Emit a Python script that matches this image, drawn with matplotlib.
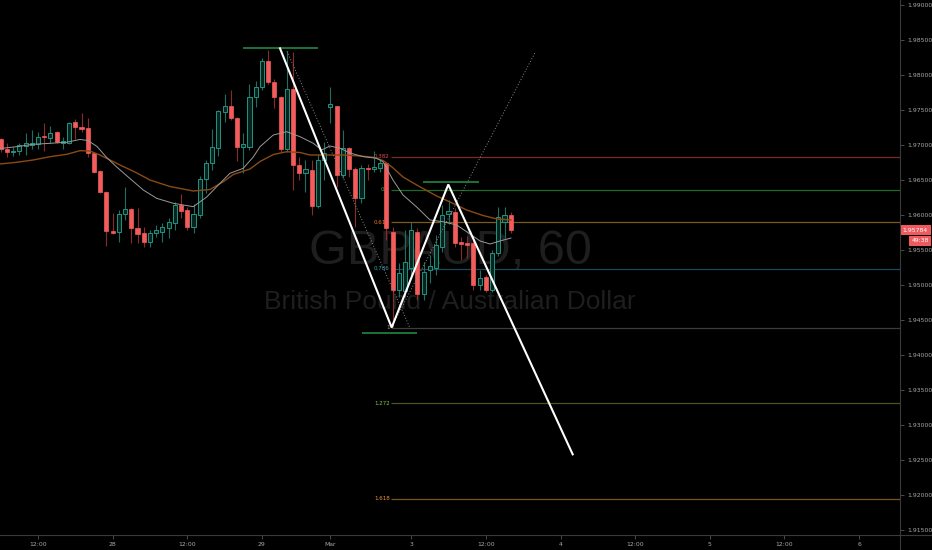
import matplotlib
matplotlib.use('Agg')
import matplotlib.pyplot as plt
import matplotlib.transforms as mtransforms
from matplotlib.lines import Line2D
import numpy as np

# GBPAUD 60 min candles
opens = [1.97086, 1.96943, 1.96893, 1.96914, 1.96986, 1.97004, 1.97014, 1.97129, 1.97100, 1.97186,
         1.97033, 1.97033, 1.97329, 1.97261, 1.97239, 1.96890, 1.96629, 1.96333, 1.95771, 1.95761,
         1.96010, 1.96081, 1.95810, 1.95747, 1.95619, 1.95739, 1.95761, 1.95810, 1.95890, 1.96143,
         1.96071, 1.95833, 1.96000, 1.96510, 1.96739, 1.96953, 1.97476, 1.97557, 1.97390, 1.96976,
         1.96976, 1.97681, 1.97833, 1.98204, 1.97904, 1.97690, 1.96939, 1.97796, 1.96714, 1.96604,
         1.96643, 1.96129, 1.96786, 1.97539, 1.97557, 1.96571, 1.96953, 1.96653, 1.96247, 1.96676,
         1.96653, 1.96667, 1.96739, 1.95761, 1.94929, 1.94914, 1.95243, 1.95757, 1.94871, 1.95214,
         1.95243, 1.95543, 1.96014, 1.96043, 1.95614, 1.95600, 1.95600, 1.95000, 1.95114, 1.94929,
         1.95457, 1.95900, 1.96000]
highs = [1.97100, 1.97029, 1.96971, 1.97033, 1.97167, 1.97214, 1.97186, 1.97319, 1.97271, 1.97204,
         1.97119, 1.97329, 1.97367, 1.97461, 1.97381, 1.96904, 1.96636, 1.96343, 1.96024, 1.96071,
         1.96396, 1.96100, 1.96100, 1.95833, 1.95786, 1.95857, 1.95890, 1.95961, 1.96190, 1.96300,
         1.96119, 1.96157, 1.96557, 1.96786, 1.97224, 1.97500, 1.97724, 1.97786, 1.97404, 1.97167,
         1.97871, 1.97914, 1.98239, 1.98357, 1.97939, 1.97700, 1.98339, 1.98329, 1.96833, 1.96786,
         1.96786, 1.96871, 1.97047, 1.97824, 1.97564, 1.97214, 1.96976, 1.96690, 1.96714, 1.96729,
         1.96919, 1.96796, 1.96761, 1.95833, 1.95314, 1.95786, 1.95900, 1.95814, 1.95329, 1.95429,
         1.95714, 1.96143, 1.96214, 1.96100, 1.95686, 1.95700, 1.95643, 1.95214, 1.95143, 1.95500,
         1.96114, 1.96114, 1.96043]
lows = [1.96900, 1.96829, 1.96843, 1.96857, 1.96857, 1.96939, 1.96939, 1.96919, 1.97024, 1.97024,
        1.96939, 1.97021, 1.97081, 1.97186, 1.96824, 1.96596, 1.96314, 1.95557, 1.95729, 1.95619,
        1.95929, 1.95600, 1.95600, 1.95547, 1.95547, 1.95681, 1.95619, 1.95667, 1.95786, 1.95961,
        1.95786, 1.95747, 1.95953, 1.96319, 1.96643, 1.96843, 1.97333, 1.97357, 1.96776, 1.96596,
        1.96929, 1.97547, 1.97786, 1.97871, 1.97524, 1.96904, 1.96904, 1.96357, 1.96500, 1.96333,
        1.96000, 1.96096, 1.96500, 1.97319, 1.96404, 1.96524, 1.96547, 1.95833, 1.96167, 1.96500,
        1.96619, 1.96619, 1.95643, 1.94393, 1.94829, 1.94829, 1.95100, 1.94786, 1.94786, 1.95029,
        1.95143, 1.95471, 1.95871, 1.95543, 1.95357, 1.95386, 1.94929, 1.94929, 1.94900, 1.94900,
        1.95414, 1.95671, 1.95743]
closes = [1.96943, 1.96893, 1.96919, 1.97000, 1.97024, 1.97033, 1.97119, 1.97110, 1.97176, 1.97043,
          1.97061, 1.97319, 1.97253, 1.97224, 1.96890, 1.96619, 1.96329, 1.95771, 1.95747, 1.96014,
          1.96081, 1.95810, 1.95729, 1.95619, 1.95747, 1.95786, 1.95824, 1.95896, 1.96143, 1.96061,
          1.95833, 1.96014, 1.96510, 1.96747, 1.96967, 1.97486, 1.97561, 1.97381, 1.96976, 1.97014,
          1.97681, 1.97824, 1.98204, 1.97904, 1.97690, 1.96939, 1.97796, 1.96714, 1.96604, 1.96653,
          1.96129, 1.96786, 1.96881, 1.97586, 1.96571, 1.96953, 1.96653, 1.96247, 1.96667, 1.96653,
          1.96690, 1.96739, 1.95814, 1.94929, 1.95171, 1.95329, 1.95786, 1.94871, 1.95186, 1.95271,
          1.95571, 1.96000, 1.96057, 1.95600, 1.95586, 1.95571, 1.95000, 1.95100, 1.94929, 1.95457,
          1.95971, 1.96000, 1.95784]

# moving averages (grey fast, brown slow)
fast_ma_x = [-0.11, 2.57, 5.24, 7.93, 10.61, 12.75, 14.04, 15.48, 17.04, 18.65, 20.31, 22.93, 25.08,
             27.75, 30.96, 33.12, 35.26, 36.86, 39.0, 40.61, 41.69, 43.83, 45.98, 48.12, 50.26, 51.61,
             52.94, 54.55, 56.16, 58.3, 60.45, 61.46, 63.07, 64.68, 66.88, 69.02, 71.11, 73.31, 75.45,
             77.06, 78.67, 80.27, 82.04]
fast_ma_y = [1.96950, 1.96976, 1.97010, 1.97024, 1.97039, 1.97079, 1.97064, 1.96979, 1.96821, 1.96686,
             1.96557, 1.96357, 1.96238, 1.96167, 1.96119, 1.96257, 1.96453, 1.96596, 1.96667, 1.96829,
             1.96976, 1.97143, 1.97190, 1.97119, 1.97024, 1.96929, 1.96986, 1.96953, 1.96886, 1.96833,
             1.96810, 1.96761, 1.96500, 1.96286, 1.96114, 1.95929, 1.95904, 1.95857, 1.95729, 1.95629,
             1.95586, 1.95629, 1.95671]
slow_ma_x = [-0.11, 2.57, 5.24, 7.93, 10.61, 12.75, 14.36, 15.96, 17.57, 19.18, 21.59, 24.0, 27.22,
             30.96, 33.65, 35.79, 37.4, 40.08, 41.69, 43.83, 45.98, 48.12, 49.73, 52.41, 55.08, 57.77,
             59.9, 61.46, 62.91, 64.68, 66.88, 70.1, 72.23, 74.92, 77.54, 79.8, 82.04]
slow_ma_y = [1.96729, 1.96753, 1.96786, 1.96833, 1.96867, 1.96919, 1.96914, 1.96857, 1.96786, 1.96714,
             1.96614, 1.96500, 1.96407, 1.96343, 1.96364, 1.96476, 1.96579, 1.96657, 1.96764, 1.96864,
             1.96904, 1.96893, 1.96857, 1.96857, 1.96857, 1.96843, 1.96824, 1.96779, 1.96686, 1.96543,
             1.96429, 1.96271, 1.96186, 1.96071, 1.95993, 1.95943, 1.95929]

# drawings on the chart
zigzag_x = [44.9, 62.86, 71.96, 91.96]
zigzag_y = [1.98381, 1.94393, 1.96436, 1.92581]
marks_x0 = [38.96, 58.04, 67.94]
marks_x1 = [51.0, 66.98, 76.95]
marks_y = [1.98386, 1.94310, 1.96476]
dot1_x = [46.03, 65.8]
dot1_y = [1.98339, 1.94386]
dot2_x = [62.75, 85.9]
dot2_y = [1.94386, 1.98319]

fib_start = 62.75
fib_high = 1.98339
fib_low = 1.94386
fib_ratios = [0.382, 0.5, 0.618, 0.786, 1, 1.272, 1.618]
fib_labels = ['0.382', '0.5', '0.618', '0.786', '1', '1.272', '1.618']
fib_line_colors = ['#7a2828', '#1d6b2a', '#7b5a1e', '#1c4a5a', '#3d3d3d', '#4a5718', '#7a5418']
fib_text_colors = ['#e04a4a', '#3fae49', '#e07a30', '#3aa0b0', '#9a9a9a', '#8bc34a', '#f0913a']

time_tick_pos = [6, 18, 30, 42, 53, 66, 78, 90, 102, 114, 126, 138]
time_tick_labels = ['12:00', '28', '12:00', '29', 'Mar', '3', '12:00', '4', '12:00', '5', '12:00', '6']
price_ticks = np.arange(1.915, 1.99001, 0.005)
last_price = closes[-1]
countdown = '49:38'

fig = plt.figure(figsize=(9.32, 5.5), dpi=100, facecolor='black')
ax = fig.add_axes([0, 15 / 550, 900 / 932, 535 / 550])
ax.set_facecolor('black')
ax.set_xlim(-0.11, 144.58)
ax.set_ylim(1.914286, 1.990714)

# watermark
ax.text(0.5, 0.529, 'GBPAUD, 60', transform=ax.transAxes, ha='center', va='center',
        fontsize=35, color='#1e1e1e', family='Liberation Sans', zorder=0)
ax.text(0.5, 0.4355, 'British Pound / Australian Dollar', transform=ax.transAxes, ha='center',
        va='center', fontsize=19, color='#1e1e1e', family='Liberation Sans', zorder=0)

# fib levels
rng = fib_high - fib_low
for r, lab, lc, tc in zip(fib_ratios, fib_labels, fib_line_colors, fib_text_colors):
    lvl = fib_high - r * rng
    ax.hlines(lvl, fib_start, 144.58, colors=lc, linewidth=0.9, zorder=1)
    ax.text(fib_start - 0.2, lvl, lab, ha='right', va='center', fontsize=4, color=tc, zorder=1)

# candles
x = np.arange(len(opens))
o = np.array(opens)
c = np.array(closes)
up = c >= o
wick_col = np.where(up, '#1d6f63', '#8a2a2a')
ax.vlines(x, lows, highs, colors=wick_col, linewidth=0.8, zorder=2)
body_bottom = np.minimum(o, c)
body_h = np.maximum(np.abs(c - o), 0.00004)
ax.bar(x[up], body_h[up], bottom=body_bottom[up], width=0.66, color='#06231e',
       edgecolor='#1f9582', linewidth=0.7, zorder=3)
ax.bar(x[~up], body_h[~up], bottom=body_bottom[~up], width=0.66, color='#f45b5b',
       edgecolor='#f45b5b', linewidth=0.5, zorder=3)

# moving averages
ax.plot(slow_ma_x, slow_ma_y, color='#8c4a12', linewidth=1.0, zorder=4)
ax.plot(fast_ma_x, fast_ma_y, color='#9a9a9a', linewidth=0.7, zorder=4)

# drawings
ax.plot(dot1_x, dot1_y, color='#8a8a8a', linewidth=0.7, linestyle=(0, (1, 2)), zorder=5)
ax.plot(dot2_x, dot2_y, color='#8a8a8a', linewidth=0.7, linestyle=(0, (1, 2)), zorder=5)
ax.hlines(marks_y, marks_x0, marks_x1, colors='#1f7d3f', linewidth=1.3, zorder=5)
ax.plot(zigzag_x, zigzag_y, color='white', linewidth=1.5, zorder=6, solid_joinstyle='miter')

# axes
for s in ax.spines.values():
    s.set_visible(False)
fig.add_artist(Line2D([0, 1], [15 / 550, 15 / 550], color='#3a3a3a', linewidth=0.8))
fig.add_artist(Line2D([900 / 932, 900 / 932], [0, 1], color='#3a3a3a', linewidth=0.8))

ax.yaxis.tick_right()
ax.set_yticks(price_ticks)
ax.set_yticklabels(['%.5f' % p for p in price_ticks])
ax.set_xticks(time_tick_pos)
ax.set_xticklabels(time_tick_labels)
ax.tick_params(axis='both', length=3, width=0.6, color='#555555', labelcolor='#a8a8a8',
               labelsize=4.4, pad=2)

# last price + countdown
trans = mtransforms.blended_transform_factory(ax.transAxes, ax.transData)
ax.text(1.003, last_price, '%.5f' % last_price, transform=trans, ha='left', va='center',
        fontsize=4.4, color='white', clip_on=False, zorder=10,
        bbox=dict(boxstyle='square,pad=0.45', fc='#f05a5f', ec='none'))
ax.text(1.0322, 1.95629, countdown, transform=trans, ha='right', va='center',
        fontsize=4.4, color='white', clip_on=False, zorder=10,
        bbox=dict(boxstyle='square,pad=0.35', fc='#f05a5f', ec='none'))

fig.savefig('out.png', dpi=100, facecolor='black')
